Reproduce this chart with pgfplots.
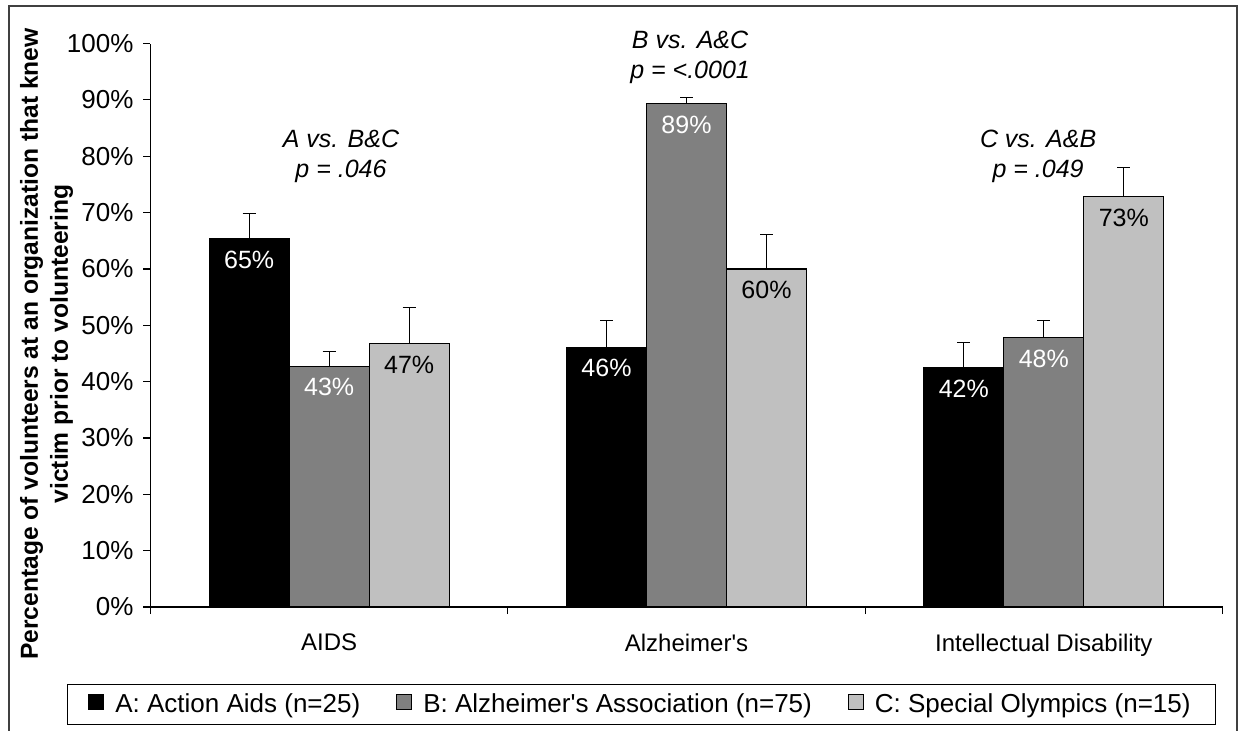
\documentclass[border=0pt]{standalone}
\usepackage{pgfplots}
\pgfplotsset{compat=1.18}
\usepackage{pgfplotstable}
\usepackage{fontspec}
\setmainfont{Liberation Sans}[Ligatures=TeXOff]

\definecolor{barB}{RGB}{128,128,128}
\definecolor{barC}{RGB}{192,192,192}

\pgfplotstableread{
x y err lab
0 65.3 4.6 65
1 46.1 4.8 46
2 42.4 4.5 42
}\dataA
\pgfplotstableread{
x y err lab
0 42.7 2.7 43
1 89.3 1.1 89
2 47.8 3.1 48
}\dataB
\pgfplotstableread{
x y err lab
0 46.7 6.4 47
1 60.0 6.1 60
2 72.8 5.2 73
}\dataC

\begin{document}
\begin{tikzpicture}
\useasboundingbox (-75.25pt,-61.5pt) rectangle (543.75pt,303.5pt);
\draw[black!75, line width=1pt] (-70.75pt,-63pt) -- (-70.75pt,300.5pt) -- (543.25pt,300.5pt) -- (543.25pt,-63pt);
\begin{axis}[
  scale only axis, width=536pt, height=281.75pt,
  at={(0pt,0pt)}, anchor=south west,
  xmin=-0.5, xmax=2.5, ymin=0, ymax=100,
  enlargelimits=false, clip=false,
  ybar=0pt, bar width=40pt,
  axis x line*=bottom, axis y line*=left,
  axis line style={black, line width=0.6pt},
  tick style={black, line width=0.6pt},
  tick align=outside, major tick length=3.5pt,
  xtick={-0.5,0.5,1.5,2.5}, xticklabels={},
  extra x ticks={0,1,2},
  extra x tick labels={AIDS,Alzheimer's,Intellectual Disability},
  extra x tick style={major tick length=0pt, xticklabel style={yshift=-10pt, font=\fontsize{12}{14}\selectfont}},
  ytick={0,10,...,100},
  yticklabels={0\%,10\%,20\%,30\%,40\%,50\%,60\%,70\%,80\%,90\%,100\%},
  yticklabel style={font=\fontsize{13}{15}\selectfont, xshift=-1.5pt},
  nodes near coords={\pgfplotspointmeta\%},
  point meta=explicit symbolic,
  every node near coord/.append style={anchor=center, yshift=-10.5pt, font=\fontsize{12.5}{14}\selectfont},
  error bars/y dir=plus, error bars/y explicit,
  error bars/error bar style={black, line width=0.6pt},
  error bars/error mark options={black, rotate=90, mark size=3.25pt, line width=0.6pt},
  legend columns=3,
  legend image code/.code={\draw[#1, draw=black, line width=0.5pt] (0pt,-2.5pt) rectangle (7.5pt,5pt);},
  legend style={at={(0.458,-0.173)}, anchor=center, draw=black, line width=0.6pt,
    font=\fontsize{13}{15}\selectfont, inner xsep=10.5pt, inner ysep=2.5pt,
    /tikz/every odd column/.append style={column sep=3.5pt},
    /tikz/every even column/.append style={column sep=16pt}},
]
\addplot[fill=black, draw=black, line width=0.6pt, every node near coord/.append style={text=white}]
  table[x=x, y=y, y error=err, meta=lab] {\dataA};
\addlegendentry{A: Action Aids (n=25)}
\addplot[fill=barB, draw=black, line width=0.6pt, every node near coord/.append style={text=white}]
  table[x=x, y=y, y error=err, meta=lab] {\dataB};
\addlegendentry{B: Alzheimer's Association (n=75)}
\addplot[fill=barC, draw=black, line width=0.6pt, every node near coord/.append style={text=black}]
  table[x=x, y=y, y error=err, meta=lab] {\dataC};
\addlegendentry{C: Special Olympics (n=15)}

\node[font=\fontsize{12.5}{15}\selectfont\itshape, align=center] at (axis cs:0.033,80.0) {A vs. B\&C\\p = .046};
\node[font=\fontsize{12.5}{15}\selectfont\itshape, align=center] at (axis cs:1.01,97.6) {B vs. A\&C\\p = <.0001};
\node[font=\fontsize{12.5}{15}\selectfont\itshape, align=center] at (axis cs:1.984,80.0) {C vs. A\&B\\p = .049};
\end{axis}
\node[rotate=90, font=\fontsize{12.3}{15}\selectfont\bfseries, align=center] at (-52pt,131.5pt)
  {Percentage of volunteers at an organization that knew\\victim prior to volunteering};
\end{tikzpicture}
\end{document}
